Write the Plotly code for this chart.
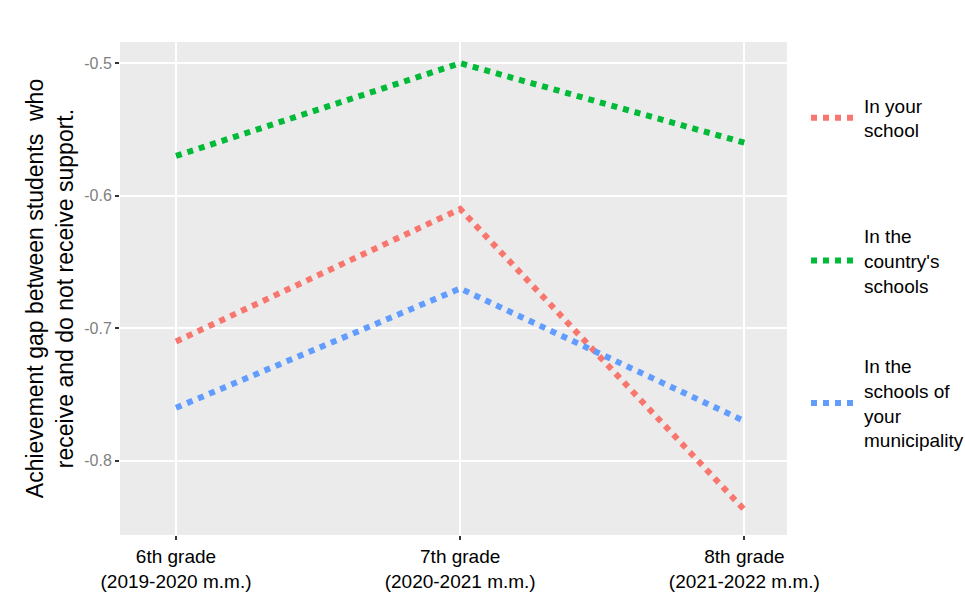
import plotly.graph_objects as go

categories = ["6th grade<br>(2019-2020 m.m.)", "7th grade<br>(2020-2021 m.m.)", "8th grade<br>(2021-2022 m.m.)"]
x_pos = [0, 1, 2]
series_names = ["In your<br>school", "In the<br>country's<br>schools", "In the<br>schools of<br>your<br>municipality"]
school = [-0.71, -0.61, -0.837]
country = [-0.57, -0.50, -0.56]
municipality = [-0.76, -0.67, -0.77]
colors = ["#F8766D", "#00BA38", "#619CFF"]
y_ticks = [-0.8, -0.7, -0.6, -0.5]
y_ticklabels = ["-0.8", "-0.7", "-0.6", "-0.5"]

FONT = "Liberation Sans, Arial, sans-serif"
fig = go.Figure()
legend_ids = ["legend", "legend2", "legend3"]
for vals, name, col, lg in zip([school, country, municipality], series_names, colors, legend_ids):
    fig.add_trace(go.Scatter(
        x=x_pos, y=vals, mode="lines", name=name,
        line=dict(color=col, width=6, dash="dot"),
        legend=lg, hoverinfo="x+y",
    ))

W, H = 965, 592
ml, mr, mt, mb = 120, 178, 42, 57
ph = H - mt - mb
pw = W - ml - mr

def leg(ypix):
    return dict(
        x=(806 - ml) / pw, xanchor="left", y=(H - mb - ypix) / ph, yanchor="middle",
        bgcolor="rgba(0,0,0,0)", borderwidth=0,
        font=dict(family=FONT, size=19, color="#000000"),
        itemwidth=48,
    )

fig.update_layout(
    width=W, height=H,
    margin=dict(l=ml, r=mr, t=mt, b=mb, autoexpand=False),
    paper_bgcolor="#ffffff",
    plot_bgcolor="#EBEBEB",
    font=dict(family=FONT),
    showlegend=True,
    legend=leg(118),
    legend2=leg(261),
    legend3=leg(403),
    xaxis=dict(
        tickmode="array", tickvals=x_pos, ticktext=categories,
        range=[-0.197, 2.15],
        showgrid=True, gridcolor="#ffffff", gridwidth=1.5,
        zeroline=False, showline=False,
        ticks="outside", ticklen=4, tickcolor="#333333", tickwidth=1.5,
        tickfont=dict(family=FONT, size=19, color="#000000"),
        automargin=False,
    ),
    yaxis=dict(
        tickmode="array", tickvals=y_ticks, ticktext=y_ticklabels,
        range=[-0.856, -0.484],
        showgrid=True, gridcolor="#ffffff", gridwidth=1.5,
        zeroline=False, showline=False,
        ticks="outside", ticklen=4, tickcolor="#333333", tickwidth=1.5,
        tickfont=dict(family=FONT, size=16, color="#7f7f7f"),
        title=dict(text="Achievement gap between students  who<br>receive and do not receive support.",
                   font=dict(family=FONT, size=23, color="#000000"), standoff=4),
        automargin=False,
    ),
)

fig.write_html("out.html", config={"displayModeBar": False},
               post_script="document.body.style.margin='0';document.body.style.overflow='hidden';")
